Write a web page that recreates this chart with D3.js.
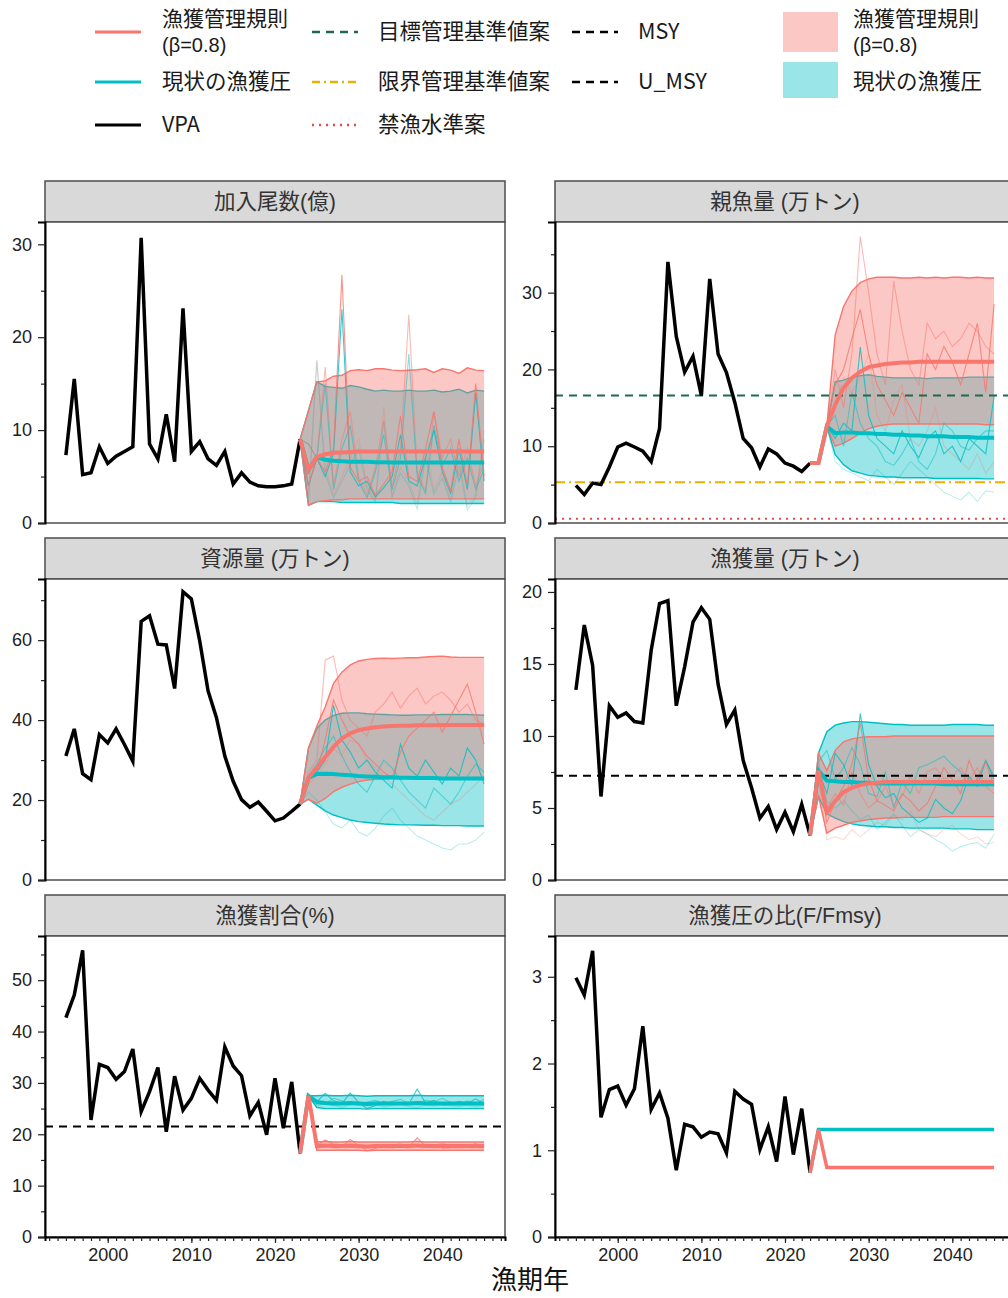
<!DOCTYPE html>
<html>
<head>
<meta charset="utf-8">
<script src="https://cdn.jsdelivr.net/npm/d3@7"></script>
<style>
  body { margin: 0; background: #fff; }
  svg { display: block; }
</style>
</head>
<body>
<svg id="chart" width="1008" height="1298"></svg>
<script>
// ---- data ----
const vpaYears = d3.range(1995, 2024);      // 1995..2023
const projYears = d3.range(2023, 2046);     // 2023..2045

// 加入尾数(億)
const recVPA = [7.3,15.5,5.2,5.4,8.2,6.4,7.2,7.7,8.2,30.7,8.5,6.9,11.7,6.6,23.1,7.7,8.75,6.9,6.2,7.7,4.2,5.4,4.4,4.0,3.9,3.9,4.0,4.2,9.0];
const recRuleMed = [9.0,5.7,7.1,7.4,7.55,7.6,7.65,7.7,7.7,7.7,7.7,7.7,7.7,7.7,7.7,7.7,7.7,7.7,7.7,7.7,7.7,7.7,7.7];
const recRuleLo = [9.0,1.9,2.3,2.4,2.5,2.5,2.6,2.6,2.6,2.6,2.6,2.6,2.6,2.6,2.6,2.6,2.6,2.6,2.6,2.6,2.6,2.6,2.6];
const recRuleHi = [9.0,12.1,15.2,15.3,15.8,15.9,16.4,16.5,16.4,16.6,16.6,16.45,16.4,16.45,16.5,16.6,16.2,16.6,16.45,16.1,16.7,16.45,16.4];
const recCurMed = [9.0,5.7,7.1,6.8,6.7,6.65,6.6,6.6,6.6,6.55,6.55,6.5,6.5,6.5,6.5,6.5,6.5,6.5,6.5,6.5,6.5,6.5,6.5];
const recCurLo = [9.0,1.9,2.3,2.3,2.3,2.2,2.2,2.2,2.2,2.2,2.2,2.2,2.1,2.1,2.1,2.1,2.1,2.1,2.1,2.1,2.1,2.1,2.1];
const recCurHi = [9.0,12.1,15.2,14.7,14.6,14.5,14.8,14.65,14.4,14.2,14.3,14.2,14.2,14.3,14.2,14.2,14.3,14.1,14.2,14.4,14.0,14.3,14.2];
const recRuleSims = [
  [9.0,4.0,7.0,5.5,8.0,26.7,6.0,4.5,5.0,3.0,4.2,5.5,11.5,5.0,4.5,8.0,12.0,6.0,3.5,9.0,4.0,15.0,5.0],
  [9.0,8.5,7.0,16.8,4.0,9.0,12.0,5.0,3.0,6.0,11.0,4.0,8.0,22.4,5.5,3.5,12.0,7.0,9.0,5.0,8.0,4.0,6.5],
  [9.0,2.5,17.5,6.0,3.0,5.0,7.0,9.0,4.0,2.5,12.5,3.0,6.0,4.5,2.0,8.0,3.5,5.5,2.5,7.0,1.8,3.0,10.0]
];
const recCurSims = [
  [9.0,4.0,7.0,5.0,7.5,23.0,5.5,4.0,4.5,2.8,3.8,5.0,9.5,4.5,4.0,7.0,10.0,5.5,3.2,8.0,3.6,14.0,4.5],
  [9.0,8.5,7.0,15.0,3.6,8.0,10.5,4.5,2.7,5.5,9.5,3.6,7.0,18.2,5.0,3.2,10.5,6.2,8.0,4.5,7.0,3.6,5.8],
  [9.0,2.5,17.5,5.4,2.7,4.5,6.3,8.0,3.6,2.2,11.0,2.7,5.4,4.0,1.5,7.0,3.1,4.9,2.2,6.2,1.4,2.7,9.0]
];

// 親魚量 (万トン)
const ssbVPA = [4.9,3.7,5.2,5.0,7.3,9.9,10.4,9.9,9.35,8.0,12.3,34.0,24.3,19.65,21.7,16.6,31.8,22.0,19.6,15.7,11.0,9.8,7.3,9.65,9.0,7.8,7.4,6.7,7.8];
const ssbRuleMed = [7.8,7.8,12.6,15.4,17.6,18.9,19.7,20.3,20.5,20.7,20.8,20.9,20.9,21.0,21.0,21.0,21.0,21.0,21.0,21.0,21.0,21.0,21.0];
const ssbRuleLo = [7.8,7.8,12.6,10.0,10.4,11.0,11.7,12.3,12.6,12.8,12.9,12.9,12.9,12.9,12.9,12.9,12.9,12.9,12.9,12.9,12.9,12.8,12.8];
const ssbRuleHi = [7.8,7.8,12.6,24.5,28.2,30.2,31.3,31.8,32.0,32.0,32.0,31.9,31.9,32.0,31.9,32.0,31.9,32.0,32.0,31.9,32.0,31.9,31.9];
const ssbCurMed = [7.8,7.8,12.6,11.7,11.8,11.8,11.7,11.7,11.6,11.6,11.5,11.5,11.4,11.4,11.3,11.3,11.3,11.2,11.2,11.2,11.1,11.1,11.1];
const ssbCurLo = [7.8,7.8,12.6,8.9,7.6,6.8,6.5,6.2,6.1,6.0,6.0,5.9,5.9,5.9,5.9,5.8,5.8,5.8,5.8,5.8,5.8,5.75,5.75];
const ssbCurHi = [7.8,7.8,12.6,18.4,18.6,19.0,19.2,19.3,19.1,19.0,18.9,18.9,18.9,18.9,18.8,18.9,18.9,18.9,18.9,19.0,19.0,19.0,19.0];
const ssbRuleSims = [
  [7.8,7.8,12.6,18,20,24,27.8,22,18,16,14,17,15,13,22,20,23,21,18,22,26,17,28.5],
  [7.8,7.8,12.6,20,15,22,37.3,30,22,18,31.5,25,20,18,26,24,25,23,24,26,25,23,22],
  [7.8,7.8,12.6,15,19,17,19,22,14,12,16,18,11,10,12,15,10,9,8,7,9,6.5,8]
];
const ssbCurSims = [
  [7.8,7.8,12.6,11,13,12,22.9,14,11,10,9,12,10,8.5,11,12,9,10,8,11,10,9,16.5],
  [7.8,7.8,12.6,14,10,17,13,11,10,8,7.5,9,11,8,7,9,13,12,10,9.5,11,12,12],
  [7.8,7.8,12.6,8,7,6.5,6,5.5,7,6,5,6.5,8,7,6,5,4,3.5,3,4,2.8,4.2,4.0]
];
const ssbTarget = 16.6;   // 目標管理基準値案
const ssbLimit = 5.3;     // 限界管理基準値案
const ssbBan = 0.55;      // 禁漁水準案

// 資源量 (万トン)
const bioVPA = [31.0,37.8,26.6,25.1,36.4,34.3,37.8,33.9,29.7,64.7,66.1,59.0,58.8,47.9,72.1,70.3,59.8,47.3,40.6,31.0,24.7,20.1,18.2,19.5,17.2,14.8,15.5,17.2,19.0];
const bioRuleMed = [19.0,25.5,28.0,30.8,33.3,35.4,36.7,37.5,37.9,38.2,38.4,38.5,38.6,38.6,38.7,38.7,38.7,38.8,38.8,38.8,38.8,38.8,38.8];
const bioRuleLo = [19.0,20.2,19.2,20.4,22.1,23.2,24.0,24.6,25.0,25.2,25.2,25.3,25.3,25.3,25.3,25.3,25.3,25.3,25.3,25.3,25.3,25.3,25.3];
const bioRuleHi = [19.0,33.0,38.5,43.3,49.2,52.0,53.8,54.8,55.2,55.4,55.5,55.4,55.5,55.6,55.6,55.8,55.9,56.0,55.8,55.7,55.7,55.7,55.7];
const bioCurMed = [19.0,25.5,26.5,26.6,26.5,26.3,26.2,26.0,25.9,25.8,25.7,25.7,25.6,25.6,25.5,25.5,25.5,25.4,25.4,25.4,25.4,25.4,25.4];
const bioCurLo = [19.0,20.2,18.75,17.3,16.25,15.6,15.0,14.6,14.4,14.2,14.0,13.9,13.8,13.8,13.75,13.7,13.7,13.6,13.6,13.6,13.5,13.5,13.5];
const bioCurHi = [19.0,33.0,37.9,40.0,41.2,41.7,41.8,41.8,41.6,41.5,41.4,41.3,41.2,41.2,41.3,41.3,41.3,41.4,41.4,41.4,41.4,41.3,41.2];
const bioRuleSims = [
  [19,25,27,35,45,40,36,34,31,29,27,25.5,32,36,38,40,42,37,41,45,49,42,34],
  [19,27,30,55,56,45,40,38,36,42,44,47,43,46,48,44,46,47,45,42,44,40,39],
  [19,24,26,29,33,31,35,34,30,28,26,24,22,20,18,16,15,17,19,20,22,24,26]
];
const bioCurSims = [
  [19,25,27,30,43.7,35,32,28,30,27,25,23,34,28,26,30,27,24,28,26,33,30,24],
  [19,26,29,33,36,31,27,24,22,26,30,28,25,22,20,18,23,21,19,22,26,29,27],
  [19,22,20,17,14,13,15,12,11,13,16,18,15,13,11,10,9,8,7.5,9,9,10,12]
];

// 漁獲量 (万トン)
const catchVPA = [13.2,17.7,14.9,5.8,12.1,11.3,11.6,11.0,10.9,15.95,19.2,19.4,12.1,14.8,17.9,18.9,18.1,13.6,10.8,11.8,8.3,6.4,4.3,5.1,3.5,4.7,3.35,5.25,3.1];
const catchRuleMed = [3.1,7.6,4.7,5.5,6.1,6.4,6.6,6.7,6.75,6.8,6.8,6.8,6.8,6.8,6.8,6.8,6.8,6.8,6.8,6.8,6.8,6.8,6.8];
const catchRuleLo = [3.1,5.8,3.25,3.6,3.8,4.0,4.1,4.2,4.25,4.3,4.3,4.35,4.35,4.35,4.35,4.35,4.4,4.4,4.4,4.4,4.4,4.4,4.4];
const catchRuleHi = [3.1,8.8,7.6,9.0,9.6,9.8,9.9,9.95,9.95,9.95,10.0,10.0,10.0,10.0,10.0,10.0,10.0,10.0,10.0,10.0,10.0,10.0,10.0];
const catchCurMed = [3.1,7.6,6.9,6.85,6.8,6.8,6.75,6.75,6.7,6.7,6.7,6.7,6.7,6.7,6.7,6.7,6.65,6.65,6.65,6.65,6.65,6.65,6.65];
const catchCurLo = [3.1,5.8,4.6,4.3,4.05,3.9,3.8,3.75,3.7,3.7,3.65,3.65,3.6,3.6,3.6,3.6,3.6,3.55,3.55,3.55,3.5,3.5,3.5];
const catchCurHi = [3.1,8.8,10.3,10.75,10.9,11.0,11.0,10.95,10.9,10.85,10.8,10.8,10.75,10.75,10.75,10.75,10.75,10.8,10.8,10.8,10.8,10.75,10.75];
const catchRuleSims = [
  [3.1,7.6,4.0,5.5,6.5,8.0,10.9,7.0,5.5,5.2,4.8,6.0,5.5,4.8,5.3,6.5,7.8,7.0,6.0,8.3,7.0,8.2,6.5],
  [3.1,8.2,5.0,6.0,5.2,7.5,6.0,5.0,5.5,6.5,5.2,5.8,7.2,6.0,7.5,7.8,7.0,7.2,7.8,6.9,7.8,6.5,6.0],
  [3.1,7.0,2.8,3.0,2.8,3.5,3.0,3.5,4.0,3.8,4.5,4.2,4.8,3.5,3.2,3.0,3.5,3.8,3.2,2.8,3.0,2.5,2.6]
];
const catchCurSims = [
  [3.1,7.6,6.0,8.8,8.0,6.5,11.55,8.0,6.5,5.7,6.0,5.0,4.5,4.0,4.3,5.6,5.0,4.6,5.5,7.2,6.5,8.3,7.0],
  [3.1,8.2,9.0,7.0,7.8,9.2,8.0,6.0,5.8,7.5,5.0,6.8,6.0,7.8,8.0,8.3,8.6,8.0,7.5,6.6,7.0,8.3,7.2],
  [3.1,7.0,5.5,5.0,5.5,4.8,4.2,4.5,3.5,4.0,4.6,3.8,3.0,3.5,3.2,2.8,2.5,2.0,2.3,2.5,2.6,2.2,3.2]
];
const catchMSY = 7.23;

// 漁獲割合(%)
const rateVPA = [42.7,47.1,55.8,22.8,33.6,33.0,30.7,32.2,36.6,24.4,28.3,33.0,20.5,31.3,24.7,27.0,30.9,28.6,26.6,37.0,33.3,31.4,23.6,26.2,19.9,30.9,21.2,30.2,16.3];
const rateRuleMed = [16.3,27.5,17.7,17.8,17.7,17.7,17.8,17.7,17.6,17.7,17.7,17.7,17.7,17.7,17.8,17.7,17.7,17.7,17.7,17.7,17.7,17.7,17.7];
const rateRuleLo = [16.3,27.5,16.9,16.9,16.9,16.9,16.9,16.9,16.8,16.9,16.9,16.9,16.9,16.9,16.9,16.9,16.9,16.9,16.9,16.9,16.9,16.9,16.9];
const rateRuleHi = [16.3,27.5,18.5,18.6,18.5,18.5,18.6,18.5,18.5,18.5,18.5,18.5,18.5,18.5,18.6,18.5,18.5,18.5,18.5,18.5,18.5,18.5,18.5];
const rateCurMed = [16.3,27.5,26.3,26.1,26.0,26.0,26.1,26.0,25.9,26.0,26.0,26.0,26.0,26.0,26.1,26.0,26.0,26.0,26.0,26.0,26.0,26.0,26.0];
const rateCurLo = [16.3,27.5,25.2,25.0,25.0,25.0,25.0,25.0,24.9,25.0,25.0,25.0,25.0,25.0,25.0,25.0,25.0,25.0,25.0,25.0,25.0,25.0,25.0];
const rateCurHi = [16.3,27.5,27.5,27.6,27.5,27.5,27.6,27.5,27.4,27.5,27.5,27.5,27.5,27.5,27.6,27.5,27.5,27.5,27.5,27.5,27.5,27.5,27.5];
const rateRuleSims = [
  [16.3,27.5,17.8,18.9,18.0,17.6,19.0,17.8,16.8,17.2,17.9,17.4,17.6,17.5,19.3,17.7,18.0,17.3,17.4,17.9,17.6,18.2,17.5],
  [16.3,27.5,17.4,17.5,18.3,17.9,17.5,17.3,17.8,18.0,17.6,17.9,18.2,17.6,17.7,18.0,17.8,18.3,17.7,17.5,18.0,17.6,18.1],
  [16.3,27.5,17.2,17.6,17.3,17.0,17.4,17.6,17.2,17.5,17.1,17.3,17.6,17.2,17.0,17.4,17.2,17.5,17.3,17.2,17.4,17.1,17.3]
];
const rateCurSims = [
  [16.3,27.5,26.3,28.0,26.5,26.0,28.0,26.2,25.0,25.6,26.4,25.8,26.0,25.9,28.8,26.1,26.6,25.7,25.8,26.4,26.0,26.9,25.9],
  [16.3,27.5,25.8,25.9,27.0,26.5,25.9,25.7,26.3,26.6,26.0,26.4,26.8,26.0,26.1,26.6,26.3,27.0,26.2,25.9,26.5,26.0,26.8],
  [16.3,27.5,25.5,26.0,25.6,25.2,25.8,26.0,25.5,25.9,25.3,25.6,26.0,25.4,25.2,25.7,25.5,25.9,25.6,25.4,25.7,25.3,25.6]
];
const rateUMSY = 21.5;

// 漁獲圧の比(F/Fmsy)
const fVPA = [2.99,2.79,3.30,1.38,1.70,1.74,1.52,1.71,2.43,1.47,1.66,1.37,0.77,1.30,1.27,1.15,1.21,1.19,0.97,1.68,1.59,1.53,1.01,1.27,0.87,1.62,0.95,1.48,0.74];
const fRuleMed = [0.74,1.24,0.80,0.80,0.80,0.80,0.80,0.80,0.80,0.80,0.80,0.80,0.80,0.80,0.80,0.80,0.80,0.80,0.80,0.80,0.80,0.80,0.80];
const fCurMed = [0.74,1.24,1.24,1.24,1.24,1.24,1.24,1.24,1.24,1.24,1.24,1.24,1.24,1.24,1.24,1.24,1.24,1.24,1.24,1.24,1.24,1.24,1.24];

const xMajor = [2000, 2010, 2020, 2030, 2040];

// ---- style ----
const RED = '#F8766D', CYAN = '#00BFC4';
const GREEN = '#1E6A4C', GOLD = '#E8B000', DOTRED = '#DC5048';
const simAlpha = [0.8, 0.5, 0.28];
const LATIN = '"Liberation Sans", Arial, "Noto Sans CJK JP", sans-serif';
const CJK = '"Noto Sans CJK JP", "Liberation Sans", sans-serif';

const W = 460, STRIP = 41, H = 301;
const colX = [45, 555];
const rowTop = [181, 538, 895];

const panels = [
  { title: '加入尾数(億)', col: 0, row: 0, yMax: 32.4, major: [0,10,20,30], minor: [5,15,25],
    vpa: recVPA, rule: [recRuleMed, recRuleLo, recRuleHi, recRuleSims], cur: [recCurMed, recCurLo, recCurHi, recCurSims], refs: [] },
  { title: '親魚量 (万トン)', col: 1, row: 0, yMax: 39.2, major: [0,10,20,30], minor: [5,15,25,35],
    vpa: ssbVPA, rule: [ssbRuleMed, ssbRuleLo, ssbRuleHi, ssbRuleSims], cur: [ssbCurMed, ssbCurLo, ssbCurHi, ssbCurSims],
    refs: [{ v: ssbTarget, color: GREEN, dash: '8,6' }, { v: ssbLimit, color: GOLD, dash: '10,4,2,4' }, { v: ssbBan, color: DOTRED, dash: '2,5' }] },
  { title: '資源量 (万トン)', col: 0, row: 1, yMax: 75.3, major: [0,20,40,60], minor: [10,30,50,70],
    vpa: bioVPA, rule: [bioRuleMed, bioRuleLo, bioRuleHi, bioRuleSims], cur: [bioCurMed, bioCurLo, bioCurHi, bioCurSims], refs: [] },
  { title: '漁獲量 (万トン)', col: 1, row: 1, yMax: 20.9, major: [0,5,10,15,20], minor: [2.5,7.5,12.5,17.5],
    vpa: catchVPA, rule: [catchRuleMed, catchRuleLo, catchRuleHi, catchRuleSims], cur: [catchCurMed, catchCurLo, catchCurHi, catchCurSims],
    refs: [{ v: catchMSY, color: '#000', dash: '8,6' }] },
  { title: '漁獲割合(%)', col: 0, row: 2, yMax: 58.6, major: [0,10,20,30,40,50], minor: [5,15,25,35,45,55],
    vpa: rateVPA, rule: [rateRuleMed, rateRuleLo, rateRuleHi, rateRuleSims], cur: [rateCurMed, rateCurLo, rateCurHi, rateCurSims],
    refs: [{ v: rateUMSY, color: '#000', dash: '8,6' }] },
  { title: '漁獲圧の比(F/Fmsy)', col: 1, row: 2, yMax: 3.47, major: [0,1,2,3], minor: [0.5,1.5,2.5],
    vpa: fVPA, rule: [fRuleMed, null, null, []], cur: [fCurMed, null, null, []], refs: [], medW: 3.5 }
];

const svg = d3.select('#chart');
const x = d3.scaleLinear().domain([1992.5, 2047.5]).range([0, W]);

panels.forEach(p => {
  const g = svg.append('g').attr('transform', `translate(${colX[p.col]},${rowTop[p.row]})`);
  // strip
  g.append('rect').attr('width', W).attr('height', STRIP)
    .attr('fill', '#d9d9d9').attr('stroke', '#4d4d4d').attr('stroke-width', 1.5);
  g.append('text').attr('x', W / 2).attr('y', 28).attr('text-anchor', 'middle')
    .style('font-family', LATIN).style('font-size', '21.5px').attr('fill', '#333').text(p.title);

  const pg = g.append('g').attr('transform', `translate(0,${STRIP})`);
  const y = d3.scaleLinear().domain([0, p.yMax]).range([H, 0]);
  pg.append('rect').attr('width', W).attr('height', H).attr('fill', '#fff');

  const line = d3.line().x(d => x(d[0])).y(d => y(d[1]));
  const proj = arr => projYears.map((yr, i) => [yr, arr[i]]);
  const area = d3.area().x(d => x(d.yr)).y0(d => y(d.lo)).y1(d => y(d.hi));

  // ribbons: current F first, rule on top
  [[p.cur, CYAN], [p.rule, RED]].forEach(([s, col]) => {
    if (!s[1]) return;
    const rows = projYears.map((yr, i) => ({ yr, lo: s[1][i], hi: s[2][i] }));
    pg.append('path').datum(rows).attr('d', area).attr('fill', col).attr('fill-opacity', 0.4);
    pg.append('path').datum(proj(s[1])).attr('d', line).attr('fill', 'none').attr('stroke', col).attr('stroke-width', 1.4);
    pg.append('path').datum(proj(s[2])).attr('d', line).attr('fill', 'none').attr('stroke', col).attr('stroke-width', 1.4);
  });

  // sample trajectories
  [[p.cur, CYAN], [p.rule, RED]].forEach(([s, col]) => {
    s[3].forEach((sim, k) => {
      pg.append('path').datum(proj(sim)).attr('d', line).attr('fill', 'none')
        .attr('stroke', col).attr('stroke-width', 1.1).attr('stroke-opacity', simAlpha[k]);
    });
  });

  // reference lines
  p.refs.forEach(r => {
    pg.append('line').attr('x1', 0).attr('x2', W).attr('y1', y(r.v)).attr('y2', y(r.v))
      .attr('stroke', r.color).attr('stroke-width', 2).attr('stroke-dasharray', r.dash);
  });

  // VPA
  pg.append('path').datum(vpaYears.map((yr, i) => [yr, p.vpa[i]])).attr('d', line)
    .attr('fill', 'none').attr('stroke', '#000').attr('stroke-width', 3.5);

  // medians
  [[p.cur, CYAN], [p.rule, RED]].forEach(([s, col]) => {
    pg.append('path').datum(proj(s[0])).attr('d', line).attr('fill', 'none')
      .attr('stroke', col).attr('stroke-width', p.medW || 4);
  });

  // border
  pg.append('rect').attr('width', W).attr('height', H).attr('fill', 'none')
    .attr('stroke', '#4d4d4d').attr('stroke-width', 1.5);

  // y axis
  const yMinor = pg.append('g').call(d3.axisLeft(y).tickValues(p.minor).tickSize(4).tickFormat(''));
  yMinor.select('.domain').remove();
  const yAx = pg.append('g').call(d3.axisLeft(y).tickValues(p.major).tickSize(7).tickPadding(6)
    .tickFormat(d3.format('d')));
  yAx.select('.domain').attr('stroke', '#000').attr('stroke-width', 2);
  pg.selectAll('.tick line').attr('stroke', '#222').attr('stroke-width', 1.2);
  yAx.selectAll('text').style('font-family', LATIN).style('font-size', '18px').attr('fill', '#222');

  // x axis on bottom row only
  if (p.row === 2) {
    const xMinor = pg.append('g').attr('transform', `translate(0,${H})`)
      .call(d3.axisBottom(x).tickValues(d3.range(1993, 2048)).tickSize(4).tickFormat(''));
    xMinor.select('.domain').attr('stroke', '#000').attr('stroke-width', 2);
    const xAx = pg.append('g').attr('transform', `translate(0,${H})`)
      .call(d3.axisBottom(x).tickValues(xMajor).tickSize(6).tickPadding(5).tickFormat(d3.format('d')));
    xAx.select('.domain').remove();
    pg.selectAll('.tick line').attr('stroke', '#222').attr('stroke-width', 1.2);
    xAx.selectAll('text').style('font-family', LATIN).style('font-size', '18px').attr('fill', '#222');
  }
});

// x title
svg.append('text').attr('x', 530).attr('y', 1289).attr('text-anchor', 'middle')
  .style('font-family', CJK).style('font-size', '26px').attr('fill', '#111').text('漁期年');

// ---- legend ----
const legendLines = [
  { x: 95, tx: 162, y: 32, color: RED, dash: null, label: ['漁獲管理規則', '(β=0.8)'] },
  { x: 95, tx: 162, y: 82, color: CYAN, dash: null, label: ['現状の漁獲圧'] },
  { x: 95, tx: 162, y: 125, color: '#000', dash: null, label: ['VPA'] },
  { x: 312, tx: 378, y: 32, color: GREEN, dash: '8,6', label: ['目標管理基準値案'] },
  { x: 312, tx: 378, y: 82, color: GOLD, dash: '8,4,2,4', label: ['限界管理基準値案'] },
  { x: 312, tx: 378, y: 125, color: DOTRED, dash: '2,5', label: ['禁漁水準案'] },
  { x: 572, tx: 638, y: 32, color: '#000', dash: '8,6', label: ['MSY'] },
  { x: 572, tx: 638, y: 82, color: '#000', dash: '8,6', label: ['U_MSY'] }
];
const legendFills = [
  { y: 12, h: 40, color: RED, label: ['漁獲管理規則', '(β=0.8)'], ty: 32 },
  { y: 62, h: 36, color: CYAN, label: ['現状の漁獲圧'], ty: 82 }
];
const lg = svg.append('g');
function legendText(tx, cy, label) {
  if (label.length === 1) {
    lg.append('text').attr('x', tx).attr('y', cy + 7)
      .style('font-family', CJK).style('font-size', '21.5px').attr('fill', '#1a1a1a').text(label[0]);
    return;
  }
  // two-line label: CJK first line, Latin second line
  lg.append('text').attr('x', tx).attr('y', cy - 6)
    .style('font-family', CJK).style('font-size', '21px').attr('fill', '#1a1a1a').text(label[0]);
  lg.append('text').attr('x', tx).attr('y', cy + 20)
    .style('font-family', LATIN).style('font-size', '20px').attr('fill', '#1a1a1a').text(label[1]);
}
legendLines.forEach(d => {
  lg.append('line').attr('x1', d.x).attr('x2', d.x + 46).attr('y1', d.y).attr('y2', d.y)
    .attr('stroke', d.color).attr('stroke-width', d.dash ? 2.5 : 3)
    .attr('stroke-dasharray', d.dash);
  legendText(d.tx, d.y, d.label);
});
legendFills.forEach(d => {
  lg.append('rect').attr('x', 783).attr('y', d.y).attr('width', 55).attr('height', d.h)
    .attr('fill', d.color).attr('fill-opacity', 0.4);
  legendText(853, d.ty, d.label);
});
</script>
</body>
</html>
